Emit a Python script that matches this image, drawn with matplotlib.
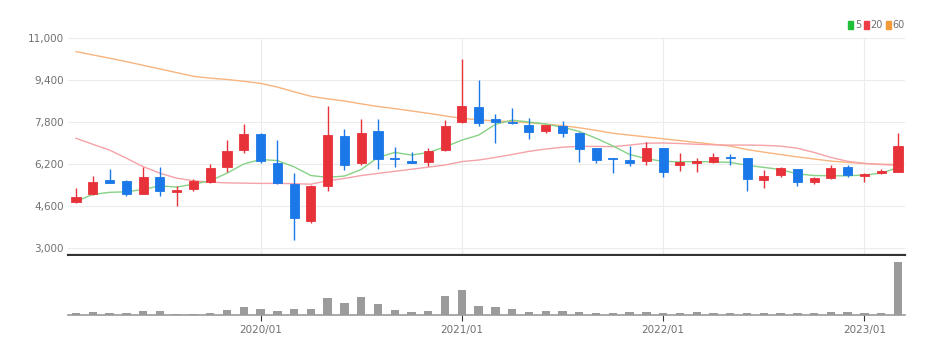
import numpy as np
import pandas as pd
import matplotlib
matplotlib.use("Agg")
import matplotlib.pyplot as plt
from matplotlib.patches import Patch

plt.rcParams['font.family'] = ['Liberation Sans Narrow', 'DejaVu Sans']

# ---------------- data (monthly candles, 2019/02 .. 2023/03) ----------------
months = pd.date_range('2019-02-01', periods=50, freq='MS')

opens = [4740, 5050, 5590, 5560, 5050, 5720, 5150, 5240, 5530, 6100,
         6730, 7340, 6230, 5440, 4040, 5360, 7280, 6250, 7470, 6440,
         6310, 6290, 6730, 7810, 8380, 7900, 7810, 7690, 7460, 7650,
         7390, 6800, 6410, 6350, 6330, 6800, 6160, 6250, 6290, 6480,
         6420, 5590, 5780, 6000, 5500, 5660, 6070, 5760, 5850, 5910]
highs = [5270, 5740, 6000, 5600, 6100, 6070, 5360, 5620, 6190, 7110,
         7720, 7370, 7110, 5870, 5400, 8410, 7520, 7910, 7910, 6860,
         6670, 6820, 7880, 10190, 9400, 8100, 8320, 7940, 7700, 7850,
         7400, 6810, 6420, 6890, 7050, 6810, 6610, 6420, 6630, 6570,
         6440, 5970, 6100, 6010, 5720, 6160, 6160, 5850, 6010, 7370]
lows = [4700, 5020, 5460, 4980, 5040, 4990, 4600, 5180, 5490, 5910,
        6630, 6250, 5430, 3300, 3960, 5180, 5970, 6160, 6000, 6100,
        6230, 6120, 6700, 7770, 7650, 7010, 7740, 7140, 7370, 7240,
        6290, 6230, 5850, 6120, 6160, 5720, 5930, 5910, 6230, 6160,
        5180, 5300, 5690, 5360, 5430, 5620, 5690, 5530, 5820, 5900]
closes = [4950, 5530, 5490, 5050, 5720, 5180, 5210, 5550, 6060, 6710,
          7340, 6330, 5470, 4130, 5360, 7300, 6160, 7390, 6390, 6390,
          6250, 6710, 7650, 8410, 7750, 7810, 7750, 7430, 7690, 7390,
          6760, 6350, 6380, 6250, 6800, 5910, 6280, 6330, 6480, 6430,
          5620, 5740, 6040, 5530, 5660, 6040, 5780, 5810, 5930, 6890]

ma5 = [4770, 5040, 5120, 5140, 5230, 5370, 5320, 5430, 5560, 5850,
       6200, 6370, 6330, 6090, 5760, 5690, 5740, 5990, 6450, 6640,
       6540, 6640, 6850, 7110, 7300, 7710, 7870, 7800, 7720, 7600,
       7440, 7180, 6890, 6560, 6400, 6300, 6280, 6290, 6280, 6260,
       6150, 6070, 5990, 5820, 5760, 5750, 5750, 5780, 5850, 6060]
ma20 = [7180, 6950, 6730, 6420, 6100, 5850, 5660, 5560, 5510, 5480,
        5470, 5460, 5460, 5450, 5430, 5560, 5650, 5760, 5840, 5920,
        6000, 6080, 6160, 6290, 6350, 6450, 6560, 6680, 6770, 6840,
        6870, 6870, 6860, 6920, 6990, 7000, 6980, 6950, 6930, 6920,
        6920, 6910, 6880, 6800, 6640, 6450, 6300, 6220, 6180, 6150]
ma60 = [10480, 10355, 10230, 10100, 9960, 9820, 9680, 9540, 9470, 9420,
        9350, 9270, 9130, 8950, 8780, 8680, 8600, 8490, 8390, 8310,
        8220, 8130, 8030, 7940, 7880, 7840, 7810, 7770, 7720, 7660,
        7580, 7480, 7370, 7300, 7230, 7160, 7090, 7020, 6950, 6880,
        6750, 6650, 6560, 6470, 6390, 6310, 6260, 6220, 6190, 6180]

volume = [1.7, 3.0, 2.3, 1.7, 4.3, 4.3, 1.3, 1.3, 2.3, 4.7,
          7.7, 5.7, 4.3, 6.0, 5.7, 17.3, 12.0, 18.3, 10.7, 4.7,
          2.7, 4.0, 19.0, 25.0, 9.0, 7.7, 5.7, 2.7, 4.3, 4.3,
          3.0, 2.3, 2.3, 3.0, 3.0, 2.3, 2.3, 3.0, 2.3, 1.7,
          2.3, 1.7, 2.3, 2.3, 1.7, 2.7, 2.7, 1.7, 2.3, 52.7]

price_ticks = [3000, 4600, 6200, 7800, 9400, 11000]
x_tick_labels = ['2020/01', '2021/01', '2022/01', '2023/01']

# ---------------- style ----------------
UP, DOWN = '#e8323a', '#1a78e8'
MA_COLORS = {'5': '#86d286', '20': '#f5a2a8', '60': '#f8b47e'}
TXT = '#707070'

o = np.array(opens, float); c = np.array(closes, float)
x = np.arange(len(months))
colors = [UP if cc >= oo else DOWN for oo, cc in zip(o, c)]

fig = plt.figure(figsize=(9.48, 3.54), dpi=100)
ax = fig.add_axes([0.0717, 0.2797, 0.8830, 0.6130])
axv = fig.add_axes([0.0717, 0.1102, 0.8830, 0.1666], sharex=ax)

# price panel
for yv in price_ticks:
    ax.axhline(yv, color='#ececec', lw=0.8, zorder=0)
tick_idx = [i for i, m in enumerate(months) if m.month == 1]
for i in tick_idx:
    ax.axvline(i, color='#ececec', lw=0.8, zorder=0)

ax.plot(x, ma60, color=MA_COLORS['60'], lw=1.0, zorder=2)
ax.plot(x, ma20, color=MA_COLORS['20'], lw=1.0, zorder=2)
ax.plot(x, ma5, color=MA_COLORS['5'], lw=1.0, zorder=2)

ax.vlines(x, lows, highs, colors=colors, lw=1.0, zorder=3)
ax.bar(x, np.abs(c - o), bottom=np.minimum(o, c), width=0.54,
       color=colors, edgecolor=colors, linewidth=0.6, zorder=4)

ax.set_ylim(2733, 11000)
ax.set_yticks(price_ticks)
ax.set_yticklabels([f'{v:,}' for v in price_ticks])
ax.tick_params(axis='y', length=0, labelsize=7.5, labelcolor=TXT, pad=3)
ax.tick_params(axis='x', length=0, labelbottom=False)
for s in ['top', 'right', 'left']:
    ax.spines[s].set_visible(False)
ax.spines['bottom'].set_color('#333333')
ax.spines['bottom'].set_linewidth(1.6)

handles = [Patch(color='#1fbf3a'), Patch(color='#ee3b45'), Patch(color='#f59a3a')]
leg = ax.legend(handles, ['5', '20', '60'], loc='lower right',
                bbox_to_anchor=(1.0, 1.035), ncol=3, frameon=False,
                handlelength=0.45, handleheight=0.8, handletextpad=0.2,
                columnspacing=0.35, borderpad=0, borderaxespad=0,
                fontsize=7)
for t in leg.get_texts():
    t.set_color(TXT)

# volume panel
axv.bar(x, volume, width=0.5, color='#9b9b9b', zorder=2)
axv.set_ylim(0, 59)
axv.set_xlim(-0.48, len(months) - 1 + 0.42)
axv.set_yticks([])
axv.set_xticks(tick_idx)
axv.set_xticklabels(x_tick_labels)
axv.tick_params(axis='x', length=4, width=0.8, color='#333333',
                labelsize=7.5, labelcolor=TXT, pad=3)
for s in ['top', 'right', 'left']:
    axv.spines[s].set_visible(False)
axv.spines['bottom'].set_color('#9a9a9a')
axv.spines['bottom'].set_linewidth(1.2)

fig.savefig('out.png', dpi=100)
